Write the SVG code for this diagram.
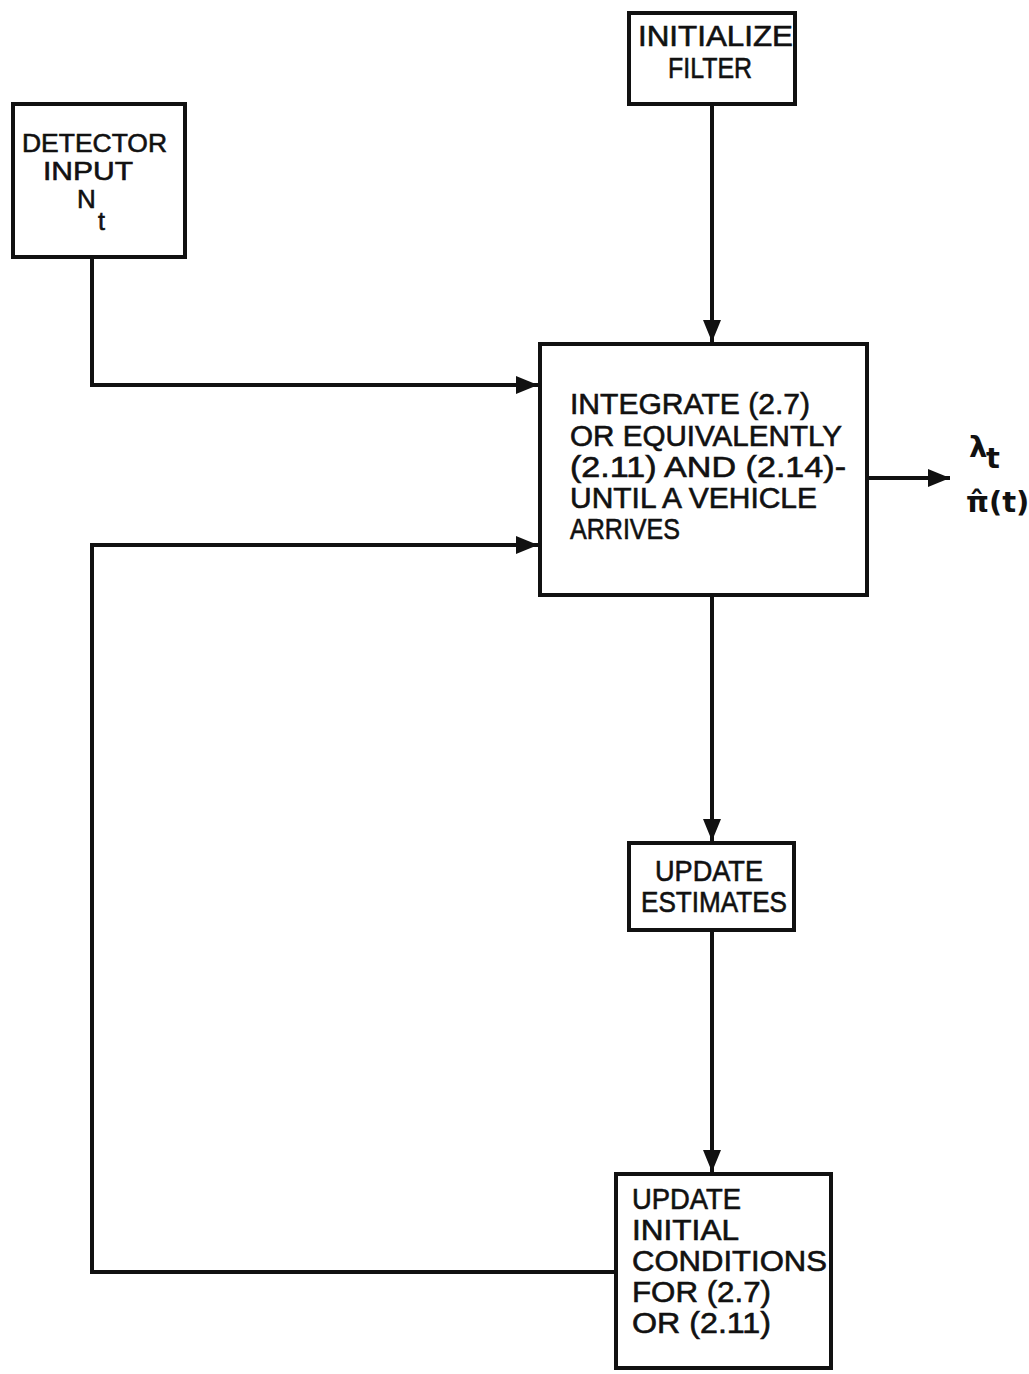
<svg xmlns="http://www.w3.org/2000/svg" width="1029" height="1374" viewBox="0 0 1029 1374">
<defs>
<style>
.box{fill:#fff;stroke:#111;stroke-width:4}
.t{font-family:"Liberation Sans",Arial,sans-serif;font-size:29px;fill:#111;stroke:#111;stroke-width:0.6}
.d{font-size:26px}
.sub{font-family:"Liberation Sans",Arial,sans-serif;font-size:25px;fill:#111;stroke:#111;stroke-width:0.6}
.sym{font-family:"DejaVu Sans","Liberation Sans",sans-serif;font-size:29px;font-weight:bold;fill:#111}
.c{fill:none;stroke:#111;stroke-width:4}
</style>
<marker id="ah" markerUnits="userSpaceOnUse" markerWidth="24" markerHeight="20" refX="22" refY="9" orient="auto">
<path d="M0,0 L22,9 L0,18 Z" fill="#111"/>
</marker>
</defs>
<rect width="1029" height="1374" fill="#fff"/>
<g id="connectors">
<path class="c" d="M92,257 V385 H538" marker-end="url(#ah)"/>
<path class="c" d="M712,104 V342" marker-end="url(#ah)"/>
<path class="c" d="M867,478 H950" marker-end="url(#ah)"/>
<path class="c" d="M712,595 V841" marker-end="url(#ah)"/>
<path class="c" d="M712,930 V1172" marker-end="url(#ah)"/>
<path class="c" d="M616,1272 H92 V545 H538" marker-end="url(#ah)"/>
</g>
<g id="detector">
<rect class="box" x="13" y="104" width="172" height="153"/>
<text class="t d" x="22" y="152" textLength="145" lengthAdjust="spacingAndGlyphs">DETECTOR</text>
<text class="t d" x="43" y="180" textLength="90" lengthAdjust="spacingAndGlyphs">INPUT</text>
<text class="t d" x="77" y="208">N</text>
<text class="sub" x="98" y="230">t</text>
</g>
<g id="initialize">
<rect class="box" x="629" y="13" width="166" height="91"/>
<text class="t" x="638" y="46" textLength="155" lengthAdjust="spacingAndGlyphs">INITIALIZE</text>
<text class="t" x="668" y="78" textLength="84" lengthAdjust="spacingAndGlyphs">FILTER</text>
</g>
<g id="integrate">
<rect class="box" x="540" y="344" width="327" height="251"/>
<text class="t" x="570" y="414" textLength="240" lengthAdjust="spacingAndGlyphs">INTEGRATE (2.7)</text>
<text class="t" x="570" y="446" textLength="272" lengthAdjust="spacingAndGlyphs">OR EQUIVALENTLY</text>
<text class="t" x="570" y="477" textLength="276" lengthAdjust="spacingAndGlyphs">(2.11) AND (2.14)-</text>
<text class="t" x="570" y="508" textLength="247" lengthAdjust="spacingAndGlyphs">UNTIL A VEHICLE</text>
<text class="t" x="570" y="539" textLength="110" lengthAdjust="spacingAndGlyphs">ARRIVES</text>
</g>
<g id="outputs">
<text class="sym" x="969" y="457">λ</text>
<text class="sym" x="986" y="468" font-size="18">t</text>
<text class="sym" x="966" y="512">π̂(t)</text>
</g>
<g id="update-estimates">
<rect class="box" x="629" y="843" width="165" height="87"/>
<text class="t" x="655" y="881" textLength="108" lengthAdjust="spacingAndGlyphs">UPDATE</text>
<text class="t" x="641" y="912" textLength="146" lengthAdjust="spacingAndGlyphs">ESTIMATES</text>
</g>
<g id="update-initial">
<rect class="box" x="616" y="1174" width="215" height="194"/>
<text class="t" x="632" y="1209" textLength="109" lengthAdjust="spacingAndGlyphs">UPDATE</text>
<text class="t" x="632" y="1240" textLength="107" lengthAdjust="spacingAndGlyphs">INITIAL</text>
<text class="t" x="632" y="1271" textLength="195" lengthAdjust="spacingAndGlyphs">CONDITIONS</text>
<text class="t" x="632" y="1302" textLength="139" lengthAdjust="spacingAndGlyphs">FOR (2.7)</text>
<text class="t" x="632" y="1333" textLength="139" lengthAdjust="spacingAndGlyphs">OR (2.11)</text>
</g>
</svg>
